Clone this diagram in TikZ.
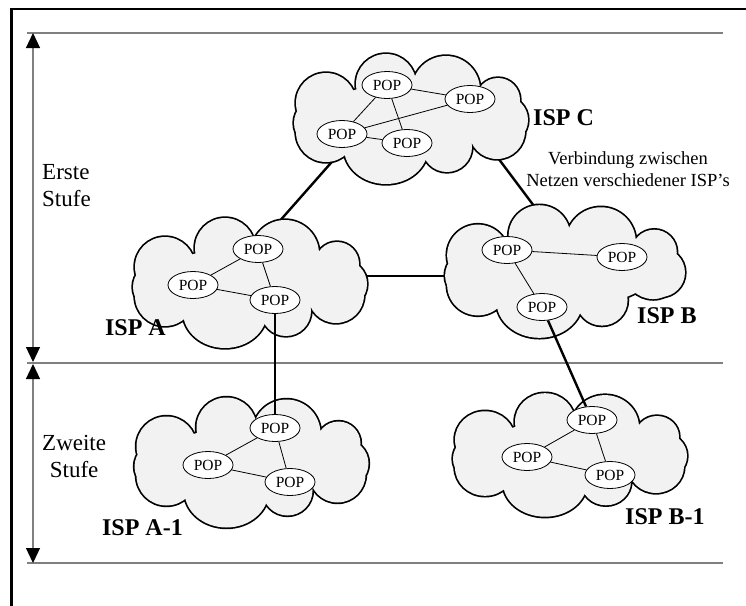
\documentclass[tikz,border=0pt]{standalone}
\usepackage{fontspec}
\setmainfont{Liberation Serif}
\usetikzlibrary{shapes.geometric,arrows.meta,backgrounds}

% outline of a provider cloud: a union of puffs round a central body;
% \bumpdrop sets how low the lower right puff hangs
\newcommand\ispcloudpath{%
  (0,0) ellipse [x radius=88, y radius=36]
  (-92,5) circle [radius=24]
  (-84,-15) circle [radius=30]
  (-24,-34) circle [radius=30]
  (36,-28) circle [radius=34]
  (88,-18) circle [radius=22]
  (94,2) circle [radius=24]
  (87,\bumpdrop) circle [radius=28]
  (37,29) circle [radius=25]
  (-24,30) ellipse [x radius=42, y radius=36]
  (-84,14) circle [radius=30]}

\tikzset{
  bump drop/.store in=\bumpdrop,
  bump drop=13,
  ispcloud/.pic={
    \draw[line width=3.4pt] \ispcloudpath;
    \fill[black!5] \ispcloudpath;
  },
  pop/.style={ellipse, draw, line width=0.8pt, fill=white,
    minimum width=50pt, minimum height=27pt, inner sep=0pt,
    font=\fontsize{15.5}{18}\selectfont},
  popline/.style={line width=0.8pt},
  link/.style={line width=2.4pt},
  ispname/.style={font=\fontsize{24}{28}\selectfont\bfseries, inner sep=0pt},
  level/.style={font=\fontsize{23}{27}\selectfont, inner sep=0pt},
  note/.style={font=\fontsize{18.5}{22}\selectfont, inner sep=0pt, align=center},
  rule/.style={draw=black!50, line width=1.3pt},
  dimarrow/.style={draw=black!50, line width=1.2pt,
    arrows={Triangle[color=black,length=15pt,width=14pt]-Triangle[color=black,length=15pt,width=14pt]}},
  frame/.style={line width=2.8pt}
}

\begin{document}
\begin{tikzpicture}[x=1pt,y=-1pt]
  \useasboundingbox (0,0) rectangle (746,605);
  \clip (0,0) rectangle (746,605);

  % outer frame
  \draw[frame] (11.3,640) |- (780,9);

  % level rules
  \draw[rule] (27,33) -- (723,33);
  \draw[rule] (27,363) -- (723,363);
  \draw[rule] (27,563) -- (723,563);

  % level dimension arrows
  \coordinate (l1top) at (33,33);
  \coordinate (l1bot) at (33,362);
  \coordinate (l2top) at (33,364);
  \coordinate (l2bot) at (33,563);
  \draw[dimarrow] (l1top) -- (l1bot);
  \draw[dimarrow] (l2top) -- (l2bot);

  \node[level, anchor=north west, align=left] (erste) at (42,164) {Erste\\Stufe};
  \node[level, anchor=north west, align=center] (zweite) at (42,435) {Zweite\\Stufe};

  % provider clouds
  \coordinate (C)  at (410,118);
  \coordinate (A)  at (249,282);
  \coordinate (B)  at (564,270.5);
  \coordinate (A1) at (250.5,461.5);
  \coordinate (B1) at (569,454);
  \pic at (C) {ispcloud};
  \pic at (A) {ispcloud};
  \pic[xscale=1.025, yscale=1.02, bump drop=0] at (B) {ispcloud};
  \pic at (A1) {ispcloud};
  \pic[yscale=0.95] at (B1) {ispcloud};

  % peering links between providers, hidden behind the cloud fills
  \begin{pgfonlayer}{background}
    \draw[link] ([xshift=6pt,yshift=33pt]A) -- ([xshift=-35pt,yshift=5pt]C);
    \draw[link] ([xshift=55pt,yshift=4pt]C) -- ([xshift=-9pt,yshift=36.5pt]B);
    \draw[link] ([yshift=6pt]A) -- ([yshift=-5.5pt]B);
  \end{pgfonlayer}

  % points of presence
  \node[pop] (c1) at (387,85)  {POP};
  \node[pop] (c2) at (470,99)  {POP};
  \node[pop] (c3) at (342,134) {POP};
  \node[pop] (c4) at (407,143) {POP};

  \node[pop] (a1) at (258,249) {POP};
  \node[pop] (a2) at (193,285) {POP};
  \node[pop] (a3) at (275,300) {POP};

  \node[pop] (b1) at (507,250) {POP};
  \node[pop] (b2) at (622,257) {POP};
  \node[pop] (b3) at (542,307) {POP};

  \node[pop] (d1) at (275,428) {POP};
  \node[pop] (d2) at (208,465) {POP};
  \node[pop] (d3) at (290,482) {POP};

  \node[pop] (e1) at (592,420) {POP};
  \node[pop] (e2) at (527,457) {POP};
  \node[pop] (e3) at (610,475) {POP};

  % links inside each provider
  \draw[popline] (c1) -- (c2);
  \draw[popline] (c1) -- (c3);
  \draw[popline] (c1) -- (c4);
  \draw[popline] (c3) -- (c2);
  \draw[popline] (c3) -- (c4);

  \draw[popline] (a1) -- (a2);
  \draw[popline] (a1) -- (a3);
  \draw[popline] (a2) -- (a3);

  \draw[popline] (b1) -- (b2);
  \draw[popline] (b1) -- (b3);

  \draw[popline] (d1) -- (d2);
  \draw[popline] (d1) -- (d3);
  \draw[popline] (d2) -- (d3);

  \draw[popline] (e1) -- (e2);
  \draw[popline] (e1) -- (e3);
  \draw[popline] (e2) -- (e3);

  % uplinks from second to first tier
  \draw[link] (a3) -- (d1);
  \draw[link] (b3) -- (e1);

  % provider names
  \node[ispname, anchor=base west] (nC)  at (533,125) {ISP C};
  \node[ispname, anchor=base east] (nA)  at (166,335) {ISP A};
  \node[ispname, anchor=base west] (nB)  at (637,323) {ISP B};
  \node[ispname, anchor=base east] (nA1) at (183,535) {ISP A-1};
  \node[ispname, anchor=base west] (nB1) at (625,524) {ISP B-1};

  \node[note, anchor=north] (peer) at (628,151) {Verbindung zwischen\\Netzen verschiedener ISP's};
\end{tikzpicture}
\end{document}
